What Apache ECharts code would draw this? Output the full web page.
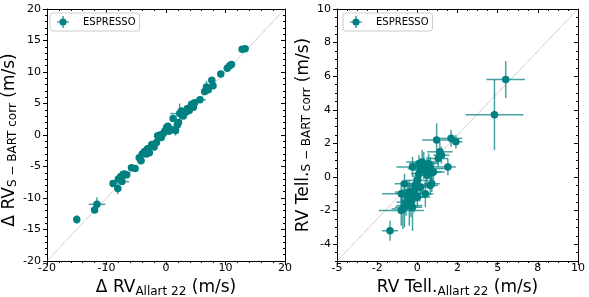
<!DOCTYPE html>
<html><head><meta charset="utf-8">
<script src="https://cdn.jsdelivr.net/npm/echarts@6/dist/echarts.min.js"></script>
<style>html,body{margin:0;padding:0;background:#fff}#c{width:589px;height:297px}</style>
</head><body><div id="c"></div>
<script>
// ---- data: [x, y, xerr, yerr] ----
const leftPoints = [
 [-15.0,-13.4,0.3,0.7],[-12.0,-11.9,0.3,0.5],[-11.6,-11.0,1.4,1.1],[-8.9,-7.7,0.3,0.3],
 [-8.1,-8.5,0.4,0.9],[-8.0,-7.0,0.5,0.4],[-7.6,-6.6,0.4,0.9],[-7.4,-7.4,1.2,0.5],
 [-7.2,-6.4,0.3,0.4],[-7.0,-6.2,0.4,0.5],[-6.6,-6.3,0.3,0.3],[-5.8,-5.2,0.3,0.3],
 [-5.2,-5.3,0.4,0.3],[-4.5,-3.6,0.3,0.4],[-4.2,-4.1,0.6,0.6],[-4.0,-3.0,0.3,0.4],
 [-3.6,-2.6,0.3,0.4],[-3.3,-3.0,0.4,0.5],[-3.1,-2.2,0.3,0.3],[-2.8,-2.8,0.4,0.4],
 [-2.4,-1.5,0.3,0.3],[-2.0,-1.9,0.3,0.4],[-1.6,-1.2,0.4,0.5],[-1.4,-0.1,0.3,0.4],
 [-1.0,0.0,0.3,0.3],[-0.8,-0.4,0.4,0.4],[-0.5,0.2,0.3,0.3],[-0.2,0.6,0.3,0.4],
 [0.1,1.2,0.3,0.4],[0.3,1.4,0.3,0.3],[0.5,0.6,0.5,0.5],[0.8,0.9,0.3,0.5],
 [1.2,2.6,0.3,0.4],[1.6,0.7,0.4,0.8],[1.9,1.6,0.3,0.5],[2.1,2.0,0.4,0.4],
 [2.3,3.4,1.6,1.6],[2.6,3.8,0.3,0.4],[2.9,3.0,0.3,0.3],[3.3,3.6,0.4,0.4],
 [3.6,4.2,0.3,0.3],[3.9,3.9,0.3,0.4],[4.3,4.9,0.3,0.3],[4.6,4.4,0.4,0.3],
 [4.8,5.1,0.3,0.3],[5.7,5.6,1.0,0.5],[6.5,6.9,0.3,0.3],[6.8,7.6,0.5,1.0],
 [7.1,7.2,0.3,0.3],[7.7,8.7,0.3,0.5],[7.9,7.8,0.3,0.3],[9.2,9.7,0.3,0.4],
 [10.3,10.6,0.3,0.3],[10.7,11.0,0.3,0.4],[11.0,11.2,0.3,0.3],[12.8,13.6,0.3,0.3],
 [13.3,13.7,0.3,0.3]
];
const rightPoints = [
 [5.5,5.8,1.2,1.1],[4.8,3.7,1.8,2.1],[-1.7,-3.2,0.5,0.6],[2.1,2.3,0.7,0.5],
 [2.4,2.1,0.4,0.4],[1.2,2.2,0.9,1.0],[1.4,1.5,0.8,0.6],[1.3,1.1,0.6,0.5],
 [1.5,1.3,0.5,0.5],[1.9,0.6,0.5,0.5],[1.0,0.3,0.7,0.6],[0.9,-0.4,0.5,0.5],
 [0.7,0.8,0.6,0.6],[0.8,0.5,0.9,0.7],[0.6,0.1,0.5,0.6],[0.5,0.4,0.7,0.5],
 [0.4,0.7,0.6,0.8],[0.3,0.9,1.0,0.7],[0.2,0.5,0.8,0.6],[0.1,0.2,0.5,0.7],
 [0.0,-0.2,0.7,0.6],[-0.1,-0.5,0.8,0.8],[-0.2,-0.8,0.6,0.9],[-0.3,0.6,1.0,0.6],
 [-0.3,-1.0,0.5,0.7],[-0.2,-1.2,0.7,0.9],[-0.4,-1.4,0.6,1.0],[-0.5,-0.9,0.9,0.7],
 [-0.6,-1.1,0.5,0.8],[-0.5,-1.7,0.8,1.2],[-0.7,-1.5,0.6,0.8],[-0.8,-0.4,0.6,0.6],
 [-1.0,-1.0,1.2,0.7],[-0.9,-1.9,0.7,1.2],[-1.0,-2.0,1.4,0.9],[-0.8,-1.8,0.6,1.2],
 [-0.3,-1.8,0.6,1.4],[0.5,-1.0,0.5,0.8],[0.8,-0.5,0.5,0.6],[0.9,0.3,0.6,0.5],
 [0.2,-0.6,0.6,0.7],[0.0,-1.2,0.8,0.6],[0.6,0.6,0.8,0.6],[0.1,0.8,0.6,0.5]
];
const leftDiagonal = [[-20,-20],[20,20]];
const rightDiagonal = [[-5,-5],[10,10]];
const rightXTickValues = [-5,-2.5,0,2.5,5,7.5,10];
const rightXTickLabels = ['-5','-2','0','2','5','8','10'];
const rightYTickValues = [-4,-2,0,2,4,6,8,10];
const legendName = 'ESPRESSO';

const FONT = 'DejaVu Sans';
const TEAL = '#008080';
const ERR = 'rgba(0,128,128,0.72)';

const chart = echarts.init(document.getElementById('c'), null, {renderer:'canvas'});

function errRender(params, api){
  const x=api.value(0), y=api.value(1), xe=api.value(2), ye=api.value(3);
  const a=api.coord([x-xe,y]), b=api.coord([x+xe,y]);
  const c=api.coord([x,y-ye]), d=api.coord([x,y+ye]);
  const st={stroke:ERR, lineWidth:1.5};
  return {type:'group', children:[
    {type:'line', shape:{x1:a[0],y1:a[1],x2:b[0],y2:b[1]}, style:st},
    {type:'line', shape:{x1:c[0],y1:c[1],x2:d[0],y2:d[1]}, style:st}
  ]};
}

const lineStyle = {color:'#000', width:1};
const labelStyle = {color:'#000', fontFamily:FONT, fontSize:11};
const richName = {
  m:{fontFamily:FONT, fontSize:17, lineHeight:20, color:'#000'},
  s:{fontFamily:FONT, fontSize:12, lineHeight:10, color:'#000', verticalAlign:'bottom'}
};

function mainAxis(o){
  return Object.assign({
    type:'value', axisLine:{show:true, onZero:false, lineStyle},
    splitLine:{show:false}
  }, o);
}

const iconPath = 'path://M0,9H20V11H0Z M9,0H11V20H9Z M10,4A6,6 0 1,1 10,16A6,6 0 1,1 10,4Z';

function legendAt(left){
  return {
    left:left, top:13, orient:'horizontal',
    data:[{name:legendName, icon:iconPath}],
    itemWidth:12, itemHeight:12,
    padding:[3,4,3,7],
    borderColor:'#cccccc', borderWidth:1, borderRadius:3,
    backgroundColor:'rgba(255,255,255,0.85)',
    textStyle:{fontFamily:FONT, fontSize:10, color:'#000', padding:[0,0,0,9]},
    selectedMode:false
  };
}

const option = {
  animation:false,
  backgroundColor:'#fff',
  grid:[
    {left:47, top:9, width:238, height:252, outerBoundsMode:'none'},
    {left:337, top:9, width:241, height:252, outerBoundsMode:'none'}
  ],
  legend:[legendAt(50), legendAt(343)],
  xAxis:[
    mainAxis({gridIndex:0, position:'bottom', min:-20, max:20, interval:10,
      axisTick:{show:true, inside:false, length:4, lineStyle},
      minorTick:{show:true, splitNumber:5, length:2, lineStyle},
      axisLabel:Object.assign({margin:2}, labelStyle),
      name:'{m|Δ RV}{s|Allart 22}{m| (m/s)}', nameLocation:'middle', nameGap:12,
      nameTextStyle:{rich:richName}}),
    mainAxis({gridIndex:0, position:'top', min:-20, max:20, interval:10,
      axisTick:{show:true, inside:true, length:4, lineStyle},
      minorTick:{show:true, splitNumber:5, length:2, lineStyle},
      axisLabel:{show:false}}),
    mainAxis({gridIndex:1, position:'bottom', min:-5, max:10, interval:2.5,
      axisTick:{show:true, inside:false, length:4, lineStyle},
      minorTick:{show:true, splitNumber:4, length:2, lineStyle},
      axisLabel:Object.assign({margin:2, formatter:function(v){
        const i=rightXTickValues.indexOf(v); return i>=0?rightXTickLabels[i]:'';}}, labelStyle),
      name:'{m|RV Tell.}{s|Allart 22}{m| (m/s)}', nameLocation:'middle', nameGap:12,
      nameTextStyle:{rich:richName}}),
    mainAxis({gridIndex:1, position:'top', min:-5, max:10, interval:2.5,
      axisTick:{show:true, inside:true, length:4, lineStyle},
      minorTick:{show:true, splitNumber:4, length:2, lineStyle},
      axisLabel:{show:false}})
  ],
  yAxis:[
    mainAxis({gridIndex:0, position:'left', min:-20, max:20, interval:5,
      axisTick:{show:true, inside:false, length:4, lineStyle},
      minorTick:{show:true, splitNumber:5, length:2, lineStyle},
      axisLabel:Object.assign({margin:6}, labelStyle),
      name:'{m|Δ RV}{s|S − BART corr}{m| (m/s)}', nameLocation:'middle', nameGap:24,
      nameTextStyle:{rich:richName, padding:[0,10,0,0]}}),
    mainAxis({gridIndex:0, position:'right', min:-20, max:20, interval:5,
      axisTick:{show:true, inside:true, length:4, lineStyle},
      minorTick:{show:true, splitNumber:5, length:2, lineStyle},
      axisLabel:{show:false}}),
    mainAxis({gridIndex:1, position:'left', min:-5, max:10,
      axisTick:{show:true, inside:false, length:4, lineStyle, customValues:rightYTickValues},
      axisLabel:Object.assign({margin:6, customValues:rightYTickValues}, labelStyle),
      name:'{m|RV Tell.}{s|S − BART corr}{m| (m/s)}', nameLocation:'middle', nameGap:19,
      nameTextStyle:{rich:richName}}),
    mainAxis({gridIndex:1, position:'right', min:-5, max:10,
      axisTick:{show:true, inside:true, length:4, lineStyle, customValues:rightYTickValues},
      axisLabel:{show:false}}),
    {type:'value', gridIndex:1, position:'left', min:-5, max:10, interval:0.5,
      axisLine:{show:false, onZero:false}, splitLine:{show:false}, axisLabel:{show:false},
      axisTick:{show:true, inside:false, length:2, lineStyle}},
    {type:'value', gridIndex:1, position:'right', min:-5, max:10, interval:0.5,
      axisLine:{show:false, onZero:false}, splitLine:{show:false}, axisLabel:{show:false},
      axisTick:{show:true, inside:true, length:2, lineStyle}}
  ],
  series:[
    {type:'line', name:'diag1', xAxisIndex:0, yAxisIndex:0, data:leftDiagonal, symbol:'none',
      lineStyle:{color:'#8c8c8c', width:0.8, type:'dotted'}, silent:true, z:1},
    {type:'custom', name:'err1', xAxisIndex:0, yAxisIndex:0, data:leftPoints,
      renderItem:errRender, encode:{x:0, y:1}, clip:true, silent:true, z:2},
    {type:'scatter', name:legendName, xAxisIndex:0, yAxisIndex:0,
      data:leftPoints.map(p=>[p[0],p[1]]), symbol:'circle', symbolSize:7.5,
      itemStyle:{color:TEAL, opacity:1}, z:3},
    {type:'line', name:'diag2', xAxisIndex:2, yAxisIndex:2, data:rightDiagonal, symbol:'none',
      lineStyle:{color:'#8c8c8c', width:0.8, type:'dotted'}, silent:true, z:1},
    {type:'custom', name:'err2', xAxisIndex:2, yAxisIndex:2, data:rightPoints,
      renderItem:errRender, encode:{x:0, y:1}, clip:true, silent:true, z:2},
    {type:'scatter', name:legendName, xAxisIndex:2, yAxisIndex:2,
      data:rightPoints.map(p=>[p[0],p[1]]), symbol:'circle', symbolSize:7.5,
      itemStyle:{color:TEAL, opacity:1}, z:3}
  ]
};
chart.setOption(option);
</script></body></html>
